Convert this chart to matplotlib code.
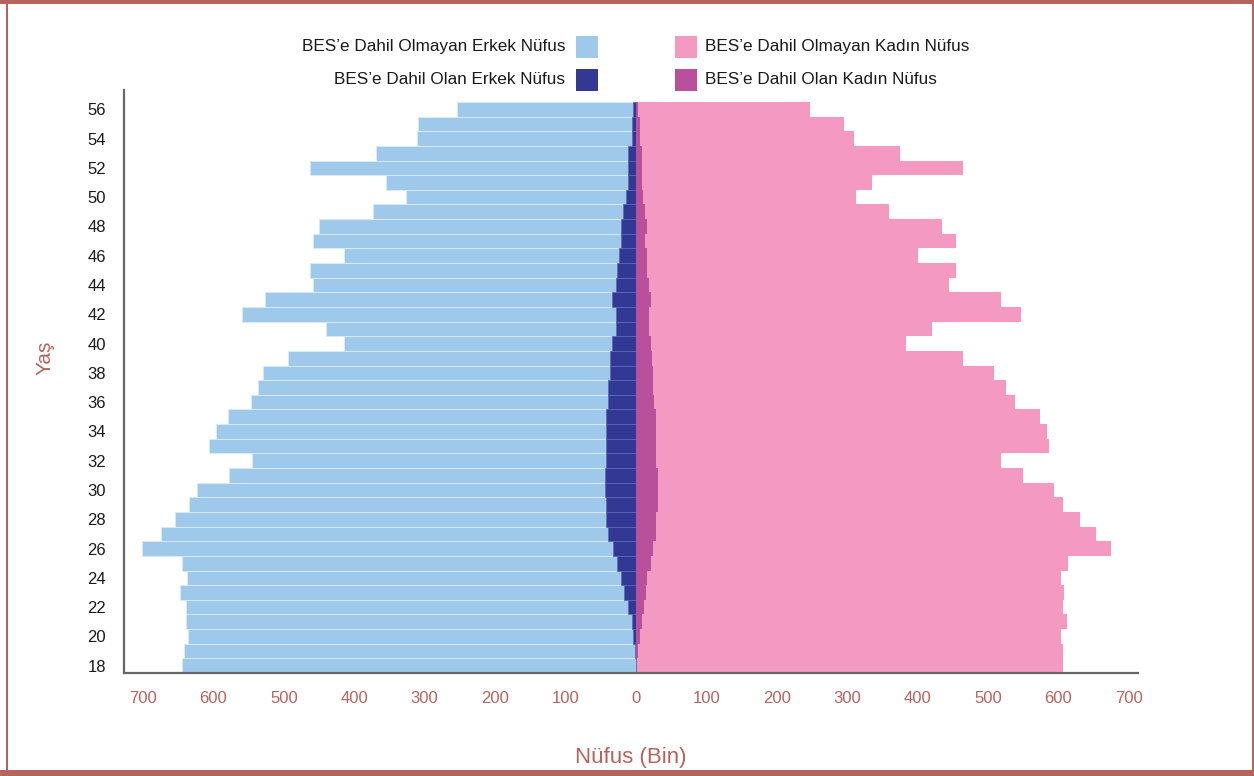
import matplotlib.pyplot as plt
import numpy as np
from matplotlib.patches import Rectangle
from matplotlib.lines import Line2D

plt.rcParams['font.family'] = ['Liberation Sans', 'DejaVu Sans']

# --- data (thousands), age 18 -> 56 ---
ages = list(range(18, 57))
male_bes = [0, 1, 4.5, 6, 11.5, 17, 21, 27, 32, 40,
            42, 42, 44.5, 44.5, 42, 42, 42, 42, 40, 40,
            37, 37, 34, 29, 29, 34, 29, 27, 24, 21,
            21, 19, 14, 11.5, 11.5, 11.5, 5.5, 5.5, 4]
male_non_bes = [644, 641, 632, 633, 627, 630, 616, 617, 669, 635,
                613, 592, 579, 533, 503, 564, 554, 538, 507, 497,
                492, 457, 381, 411, 531, 493, 429, 436, 391, 437,
                429, 355, 312, 344, 451, 357, 306, 304, 250]
female_bes = [0, 3, 6, 8.5, 11, 14, 16, 21, 24, 28,
              28, 31, 31, 31, 28, 28, 28, 28, 25.5, 24,
              24, 23, 21, 18, 18, 21, 18, 16, 16, 13,
              16, 13, 10, 8.5, 8.5, 8.5, 6, 6, 2.5]
female_non_bes = [606, 603, 597, 603, 595, 594, 587, 593, 651, 626,
                  603, 575, 562, 519, 491, 559, 556, 546, 513, 501,
                  485, 442, 363, 402, 529, 498, 427, 439, 385, 442,
                  418, 347, 302, 327, 456, 366, 303, 290, 245]

x_ticks = [-700, -600, -500, -400, -300, -200, -100, 0, 100, 200, 300, 400, 500, 600, 700]
x_tick_labels = ['700', '600', '500', '400', '300', '200', '100', '0',
                 '100', '200', '300', '400', '500', '600', '700']
y_ticks = list(range(18, 57, 2))

legend_labels = ["BES\u2019e Dahil Olmayan Erkek Nüfus", "BES\u2019e Dahil Olan Erkek Nüfus",
                 "BES\u2019e Dahil Olmayan Kadın Nüfus", "BES\u2019e Dahil Olan Kadın Nüfus"]

LIGHT_BLUE = '#9FC9EB'
DARK_BLUE = '#343895'
PINK = '#F49AC2'
MAGENTA = '#B8509B'
ROSE = '#B5635D'
AXIS_GRAY = '#666666'

W, H = 1254, 776
fig = plt.figure(figsize=(W / 100, H / 100), dpi=100)
ax = fig.add_axes([124 / W, 1 - 673 / H, (1138 - 124) / W, (673 - 90) / H])

mb = np.array(male_bes)
mn = np.array(male_non_bes)
fb = np.array(female_bes)
fn = np.array(female_non_bes)

ax.barh(ages, -mn, left=-mb, height=1.0, color=LIGHT_BLUE, edgecolor='#DCEBF7', linewidth=0.6, zorder=2)
ax.barh(ages, -mb, height=1.0, color=DARK_BLUE, edgecolor='#5967B5', linewidth=0.6, zorder=3)
ax.barh(ages, fn, left=fb, height=1.0, color=PINK, linewidth=0, zorder=2)
ax.barh(ages, fb, height=1.0, color=MAGENTA, linewidth=0, zorder=3)

ax.set_xlim(-727, 713)
ax.set_ylim(17.5, 57.32)

for s in ['top', 'right']:
    ax.spines[s].set_visible(False)
for s in ['left', 'bottom']:
    ax.spines[s].set_color(AXIS_GRAY)
    ax.spines[s].set_linewidth(1.6)
    ax.spines[s].set_zorder(5)

ax.set_xticks(x_ticks)
ax.set_xticklabels(x_tick_labels, fontsize=12, color=ROSE)
ax.set_yticks(y_ticks)
ax.set_yticklabels([str(a) for a in y_ticks], fontsize=12, color='#1a1a1a')
ax.tick_params(axis='x', length=0, pad=13)
ax.tick_params(axis='y', length=0, pad=13)

# axis titles
fig.text(45 / W, 1 - 358 / H, 'Yaş', rotation=90, ha='center', va='center', fontsize=15, color=ROSE)
fig.text(631 / W, 1 - 758 / H, 'Nüfus (Bin)', ha='center', va='center', fontsize=16, color=ROSE)

# legend (drawn by hand: two columns)
def patch(x, y, c):
    fig.add_artist(Rectangle((x / W, 1 - (y + 22) / H), 22 / W, 22 / H,
                             transform=fig.transFigure, color=c, lw=0))

patch(576, 36, LIGHT_BLUE)
patch(576, 69, DARK_BLUE)
patch(675, 36, PINK)
patch(675, 69, MAGENTA)
fig.text(565 / W, 1 - 47 / H, legend_labels[0], ha='right', va='center', fontsize=12.3, color='#1a1a1a')
fig.text(565 / W, 1 - 80 / H, legend_labels[1], ha='right', va='center', fontsize=12.3, color='#1a1a1a')
fig.text(705 / W, 1 - 47 / H, legend_labels[2], ha='left', va='center', fontsize=12.3, color='#1a1a1a')
fig.text(705 / W, 1 - 80 / H, legend_labels[3], ha='left', va='center', fontsize=12.3, color='#1a1a1a')

# frame around the figure
def frame_line(x0, y0, x1, y1, lw_px):
    fig.add_artist(Line2D([x0 / W, x1 / W], [1 - y0 / H, 1 - y1 / H], transform=fig.transFigure,
                          color=ROSE, linewidth=lw_px * 0.72, solid_capstyle='butt'))

frame_line(0, 2, W, 2, 4)
frame_line(0, 773, W, 773, 6)
frame_line(7, 0, 7, H, 2)
frame_line(1252.5, 0, 1252.5, H, 3)

fig.savefig('out.png', dpi=100)
